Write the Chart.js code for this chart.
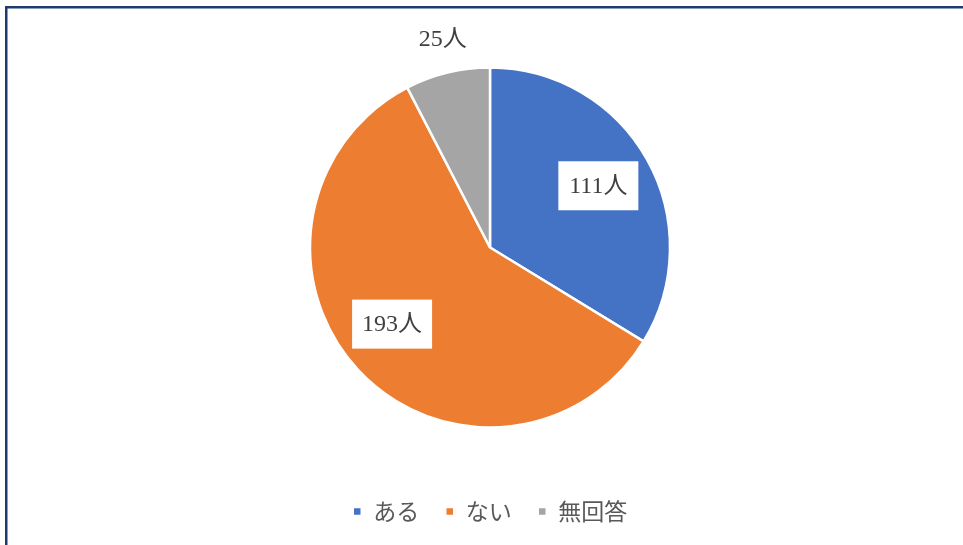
<!DOCTYPE html>
<html>
<head>
<meta charset="utf-8">
<script src="https://cdn.jsdelivr.net/npm/chart.js@4.4.0/dist/chart.umd.min.js"></script>
<style>
  html, body { margin: 0; padding: 0; background: #fff; }
  #wrap { position: relative; width: 963px; height: 545px; }
</style>
</head>
<body>
<div id="wrap"><canvas id="chart1"></canvas></div>
<script>
const categories = ['ある', 'ない', '無回答']
const counts = [111, 193, 25]
const sliceColors = ['#4472C4', '#ED7D31', '#A5A5A5']
const unit = '人'

const textFont = '24px "Liberation Serif", "Noto Sans CJK JP", serif'
// small hand nudges for the label boxes, in px
const labelNudge = [[0, -1], [-7, -8], [3, -2]]

// navy frame along the top and left edges
const frame = {
  id: 'frame',
  afterDraw(chart) {
    const ctx = chart.ctx
    ctx.save()
    ctx.fillStyle = '#1F3A6E'
    ctx.fillRect(5, 6, 2.5, chart.height)
    ctx.fillRect(5, 6, chart.width, 2.5)
    ctx.restore()
  }
}

// value labels: boxed inside the big slices, plain outside the small one
const sliceLabels = {
  id: 'sliceLabels',
  afterDatasetsDraw(chart) {
    const ctx = chart.ctx
    const meta = chart.getDatasetMeta(0)
    const total = counts.reduce((a, b) => a + b, 0)
    ctx.save()
    ctx.font = textFont
    ctx.textAlign = 'center'
    ctx.textBaseline = 'middle'
    meta.data.forEach((arc, i) => {
      const { x, y, startAngle, endAngle, outerRadius } =
        arc.getProps(['x', 'y', 'startAngle', 'endAngle', 'outerRadius'], true)
      const mid = (startAngle + endAngle) / 2
      const inside = counts[i] / total > 0.15
      const r = outerRadius * (inside ? 0.69 : 1.18)
      const lx = x + Math.cos(mid) * r + labelNudge[i][0]
      const ly = y + Math.sin(mid) * r + labelNudge[i][1]
      if (inside) {
        ctx.fillStyle = '#fff'
        ctx.fillRect(lx - 40, ly - 24.5, 80, 49)
      }
      ctx.fillStyle = '#404040'
      ctx.fillText(counts[i] + unit, lx, ly + 1)
    })
    ctx.restore()
  }
}

const ctx = document.getElementById('chart1').getContext('2d')
new Chart(ctx, {
  type: 'pie',
  data: {
    labels: categories,
    datasets: [{
      data: counts,
      backgroundColor: sliceColors,
      borderColor: '#fff',
      borderWidth: 2.5,
      radius: 180
    }]
  },
  options: {
    responsive: true,
    maintainAspectRatio: false,
    animation: false,
    layout: { padding: { top: 21, bottom: 12, left: 17, right: 0 } },
    plugins: {
      tooltip: { enabled: false },
      legend: {
        position: 'bottom',
        labels: {
          boxWidth: 9,
          boxHeight: 9,
          padding: 26,
          color: '#595959',
          font: { family: '"Noto Sans CJK JP", sans-serif', size: 23 }
        }
      }
    }
  },
  plugins: [sliceLabels, frame]
})
</script>
</body>
</html>
